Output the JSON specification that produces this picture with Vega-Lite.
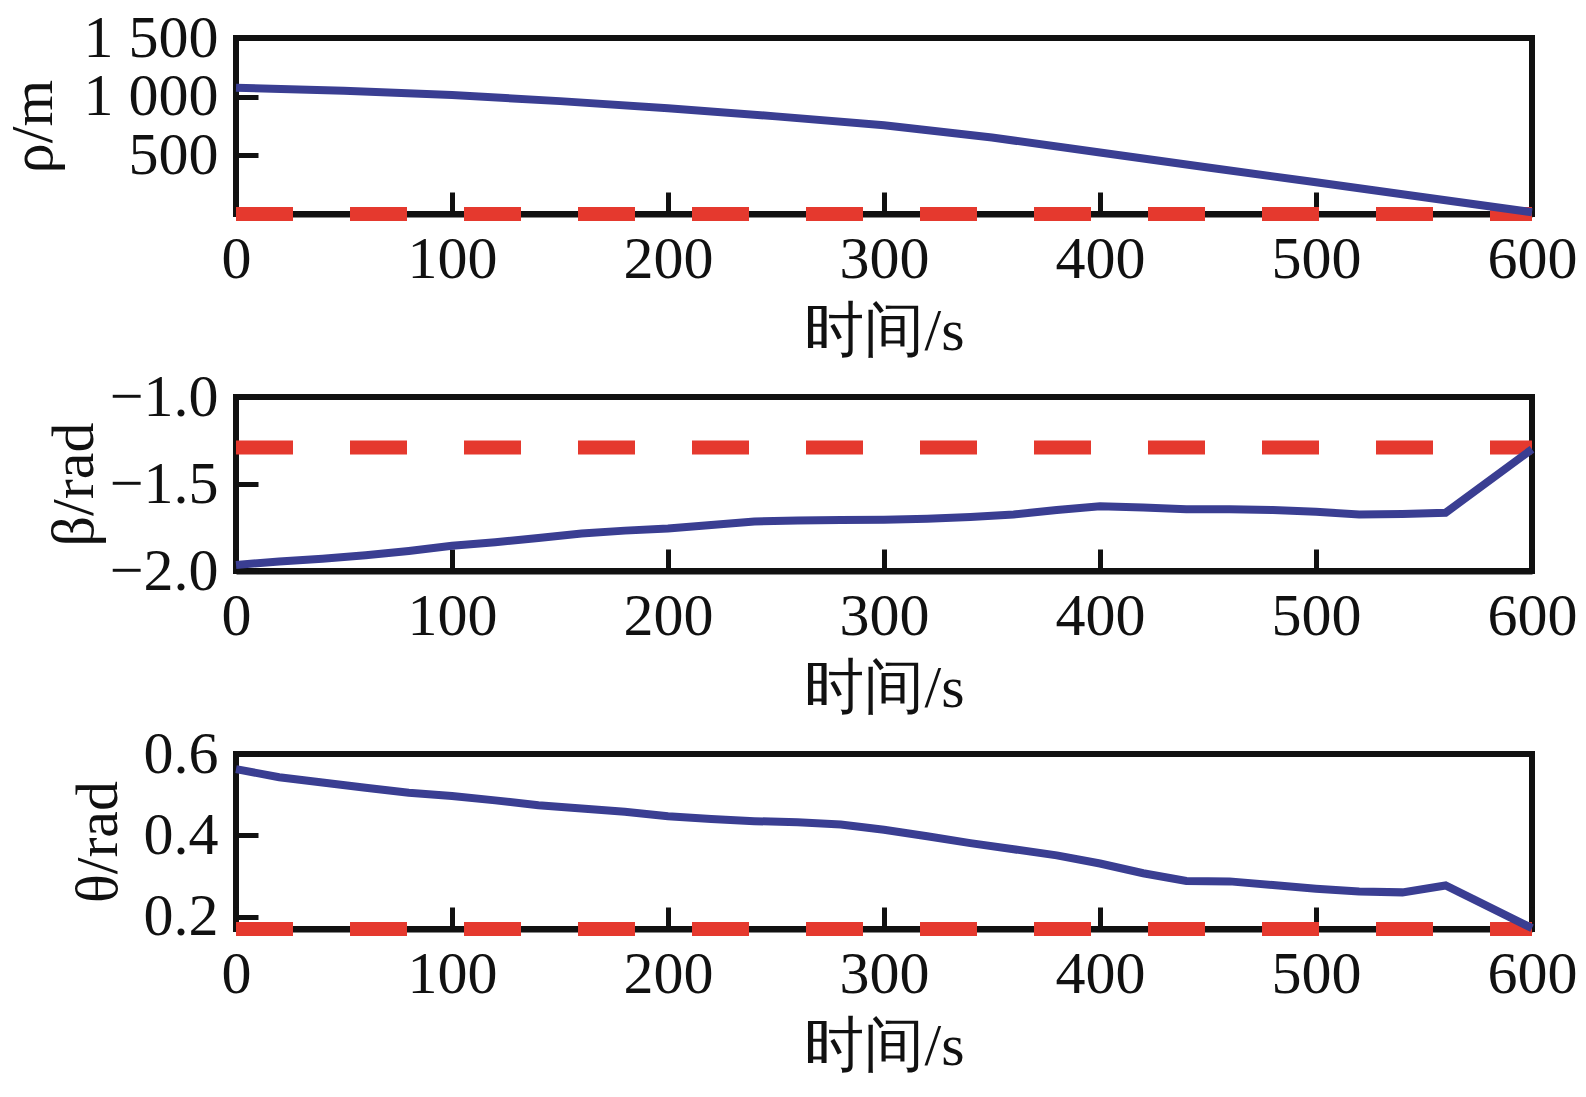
{
  "$schema": "https://vega.github.io/schema/vega-lite/v6.json",
  "padding": {"left": 0, "top": 5, "right": 5, "bottom": 5},
  "background": "white",
  "datasets": {
    "rho": [
      {"t": 0, "v": 1076}, {"t": 50, "v": 1050}, {"t": 100, "v": 1014},
      {"t": 150, "v": 962}, {"t": 200, "v": 901}, {"t": 250, "v": 832},
      {"t": 300, "v": 757}, {"t": 350, "v": 652}, {"t": 400, "v": 524},
      {"t": 450, "v": 397}, {"t": 500, "v": 270}, {"t": 550, "v": 143},
      {"t": 600, "v": 15}
    ],
    "beta": [
      {"t": 0, "v": -1.965}, {"t": 20, "v": -1.945}, {"t": 40, "v": -1.93},
      {"t": 60, "v": -1.91}, {"t": 80, "v": -1.885}, {"t": 100, "v": -1.855},
      {"t": 120, "v": -1.835}, {"t": 140, "v": -1.81}, {"t": 160, "v": -1.785},
      {"t": 180, "v": -1.768}, {"t": 200, "v": -1.756}, {"t": 220, "v": -1.735},
      {"t": 240, "v": -1.715}, {"t": 260, "v": -1.71}, {"t": 280, "v": -1.707},
      {"t": 300, "v": -1.705}, {"t": 320, "v": -1.7}, {"t": 340, "v": -1.69},
      {"t": 360, "v": -1.675}, {"t": 380, "v": -1.65}, {"t": 400, "v": -1.628},
      {"t": 420, "v": -1.635}, {"t": 440, "v": -1.645}, {"t": 460, "v": -1.645},
      {"t": 480, "v": -1.65}, {"t": 500, "v": -1.66}, {"t": 520, "v": -1.675},
      {"t": 540, "v": -1.672}, {"t": 560, "v": -1.665}, {"t": 600, "v": -1.3}
    ],
    "theta": [
      {"t": 0, "v": 0.563}, {"t": 20, "v": 0.543}, {"t": 40, "v": 0.53},
      {"t": 60, "v": 0.517}, {"t": 80, "v": 0.505}, {"t": 100, "v": 0.497},
      {"t": 120, "v": 0.486}, {"t": 140, "v": 0.474}, {"t": 160, "v": 0.466},
      {"t": 180, "v": 0.458}, {"t": 200, "v": 0.447}, {"t": 220, "v": 0.44},
      {"t": 240, "v": 0.435}, {"t": 260, "v": 0.432}, {"t": 280, "v": 0.427},
      {"t": 300, "v": 0.414}, {"t": 320, "v": 0.398}, {"t": 340, "v": 0.381},
      {"t": 360, "v": 0.366}, {"t": 380, "v": 0.351}, {"t": 400, "v": 0.331},
      {"t": 420, "v": 0.307}, {"t": 440, "v": 0.288}, {"t": 460, "v": 0.287},
      {"t": 480, "v": 0.278}, {"t": 500, "v": 0.269}, {"t": 520, "v": 0.262},
      {"t": 540, "v": 0.26}, {"t": 560, "v": 0.277}, {"t": 600, "v": 0.172}
    ],
    "refs": [
      {"panel": "rho", "v": 0},
      {"panel": "beta", "v": -1.29},
      {"panel": "theta", "v": 0.17}
    ]
  },
  "spacing": 183,
  "bounds": "flush",
  "vconcat": [
    {
      "width": 1296,
      "height": 176,
      "layer": [
        {
          "data": {"name": "refs"},
          "transform": [{"filter": "datum.panel == 'rho'"}],
          "mark": {"type": "rule", "color": "#e5392e", "strokeWidth": 14, "strokeDash": [57, 57], "strokeDashOffset": 15},
          "encoding": {
            "y": {"field": "v", "type": "quantitative", "scale": {"domain": [0, 1500], "nice": false}}
          }
        },
        {
          "data": {"name": "rho"},
          "mark": {"type": "line", "color": "#3a3e92", "strokeWidth": 8},
          "encoding": {
            "x": {"field": "t", "type": "quantitative", "scale": {"domain": [0, 600], "nice": false},
              "axis": {"values": [0, 100, 200, 300, 400, 500, 600], "title": "时间/s"}},
            "y": {"field": "v", "type": "quantitative", "scale": {"domain": [0, 1500], "nice": false},
              "axis": {"values": [500, 1000, 1500], "title": "ρ/m", "titlePadding": 19,
                "labelExpr": "replace(format(datum.value, ','), ',', ' ')"}}
          }
        }
      ]
    },
    {
      "width": 1296,
      "height": 174,
      "layer": [
        {
          "data": {"name": "refs"},
          "transform": [{"filter": "datum.panel == 'beta'"}],
          "mark": {"type": "rule", "color": "#e5392e", "strokeWidth": 14, "strokeDash": [57, 57], "strokeDashOffset": 15},
          "encoding": {
            "y": {"field": "v", "type": "quantitative", "scale": {"domain": [-2, -1], "nice": false}}
          }
        },
        {
          "data": {"name": "beta"},
          "mark": {"type": "line", "color": "#3a3e92", "strokeWidth": 8},
          "encoding": {
            "x": {"field": "t", "type": "quantitative", "scale": {"domain": [0, 600], "nice": false},
              "axis": {"values": [0, 100, 200, 300, 400, 500, 600], "title": "时间/s"}},
            "y": {"field": "v", "type": "quantitative", "scale": {"domain": [-2, -1], "nice": false},
              "axis": {"values": [-2, -1.5, -1], "format": ".1f", "title": "β/rad", "titlePadding": 4}}
          }
        }
      ]
    },
    {
      "width": 1296,
      "height": 175,
      "layer": [
        {
          "data": {"name": "refs"},
          "transform": [{"filter": "datum.panel == 'theta'"}],
          "mark": {"type": "rule", "color": "#e5392e", "strokeWidth": 14, "strokeDash": [57, 57], "strokeDashOffset": 15},
          "encoding": {
            "y": {"field": "v", "type": "quantitative", "scale": {"domain": [0.17, 0.6], "nice": false}}
          }
        },
        {
          "data": {"name": "theta"},
          "mark": {"type": "line", "color": "#3a3e92", "strokeWidth": 8},
          "encoding": {
            "x": {"field": "t", "type": "quantitative", "scale": {"domain": [0, 600], "nice": false},
              "axis": {"values": [0, 100, 200, 300, 400, 500, 600], "title": "时间/s"}},
            "y": {"field": "v", "type": "quantitative", "scale": {"domain": [0.17, 0.6], "nice": false},
              "axis": {"values": [0.2, 0.4, 0.6], "format": ".1f", "title": "θ/rad", "titlePadding": 14}}
          }
        }
      ]
    }
  ],
  "config": {
    "font": "Liberation Serif",
    "view": {"stroke": "#111111", "strokeWidth": 6},
    "axis": {
      "grid": false,
      "domain": false,
      "zindex": 1,
      "ticks": true,
      "tickSize": -22,
      "tickWidth": 5,
      "tickColor": "#111111",
      "labelFont": "Liberation Serif",
      "labelFontSize": 60,
      "labelColor": "#111111",
      "labelOverlap": false,
      "labelFlush": false,
      "titleFont": "Liberation Serif",
      "titleFontSize": 60,
      "titleFontWeight": "normal",
      "titleColor": "#111111"
    },
    "axisX": {"labelPadding": 38, "titlePadding": 13, "domain": true, "domainWidth": 6, "domainColor": "#111111"},
    "axisY": {"labelPadding": 40}
  }
}
